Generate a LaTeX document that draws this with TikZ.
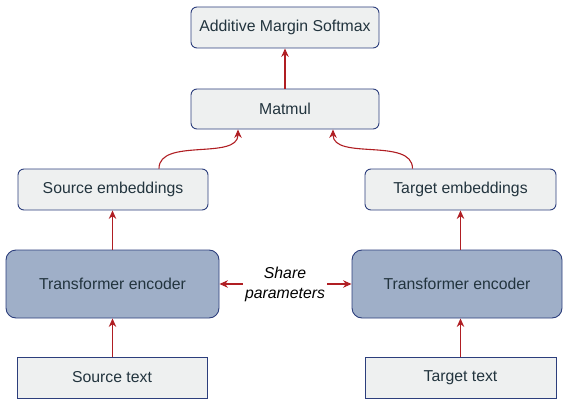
\documentclass[tikz,border=0pt]{standalone}
\usepackage{fontspec}
\setmainfont{Liberation Sans}
\usetikzlibrary{arrows.meta}
\definecolor{boxfill}{HTML}{EEF0F0}
\definecolor{boxline}{HTML}{2C3E7C}
\definecolor{encfill}{HTML}{9FAFC8}
\definecolor{arrowred}{HTML}{B01E23}
\definecolor{txt}{HTML}{22343E}
\begin{document}
\begin{tikzpicture}[x=1pt,y=-1pt,
  base/.style={draw=boxline,line width=0.9pt,text=txt,font=\fontsize{15.8}{18}\selectfont,inner sep=0pt},
  graybox/.style={base,fill=boxfill,rounded corners=6pt},
  plainbox/.style={base,fill=boxfill},
  encbox/.style={base,fill=encfill,rounded corners=10pt},
  arr/.style={draw=arrowred,line width=1.1pt,-{Stealth[length=8.5pt,width=7.5pt]}}
]
\useasboundingbox (0,0) rectangle (564,401);
\node[graybox,minimum width=188pt,minimum height=41pt] (soft) at (285,27.5) {Additive Margin Softmax};
\node[graybox,minimum width=188pt,minimum height=40pt] (mat) at (285,109) {Matmul};
\node[graybox,minimum width=190pt,minimum height=41pt] (semb) at (113,189.5) {Source embeddings};
\node[graybox,minimum width=191pt,minimum height=41pt] (temb) at (460.5,189.5) {Target embeddings};
\node[encbox,minimum width=213pt,minimum height=68pt] (encL) at (112.5,284) {Transformer encoder};
\node[encbox,minimum width=210pt,minimum height=68pt] (encR) at (457,284) {Transformer encoder};
\node[plainbox,minimum width=190pt,minimum height=41pt] (stext) at (112,377.5) {Source text};
\node[plainbox,minimum width=191pt,minimum height=41pt] (ttext) at (460.5,377.5) {Target text};
\node[font=\itshape\fontsize{15.8}{20}\selectfont,align=center,inner sep=2pt] (share) at (285,284) {Share\\parameters};

\draw[arr] (stext.north -| encL) -- (encL.south);
\draw[arr] (ttext.north) -- (ttext.north |- encR.south);
\draw[arr] (encL.north) -- (encL.north |- semb.south);
\draw[arr] (encR.north -| temb) -- (temb.south);
\draw[arr] (mat.north) -- (soft.south);
\draw[arr] (share.west) -- (encL.east);
\draw[arr] (share.east) -- (encR.west);
\coordinate (mL) at ([xshift=-47pt]mat.south);
\coordinate (mR) at ([xshift=48pt]mat.south);
\coordinate (sL) at ([xshift=46pt]semb.north);
\coordinate (tR) at ([xshift=-48pt]temb.north);
\draw[arr] (sL) to[out=90,in=-90,looseness=0.9] (mL);
\draw[arr] (tR) to[out=90,in=-90,looseness=0.9] (mR);
\end{tikzpicture}
\end{document}
